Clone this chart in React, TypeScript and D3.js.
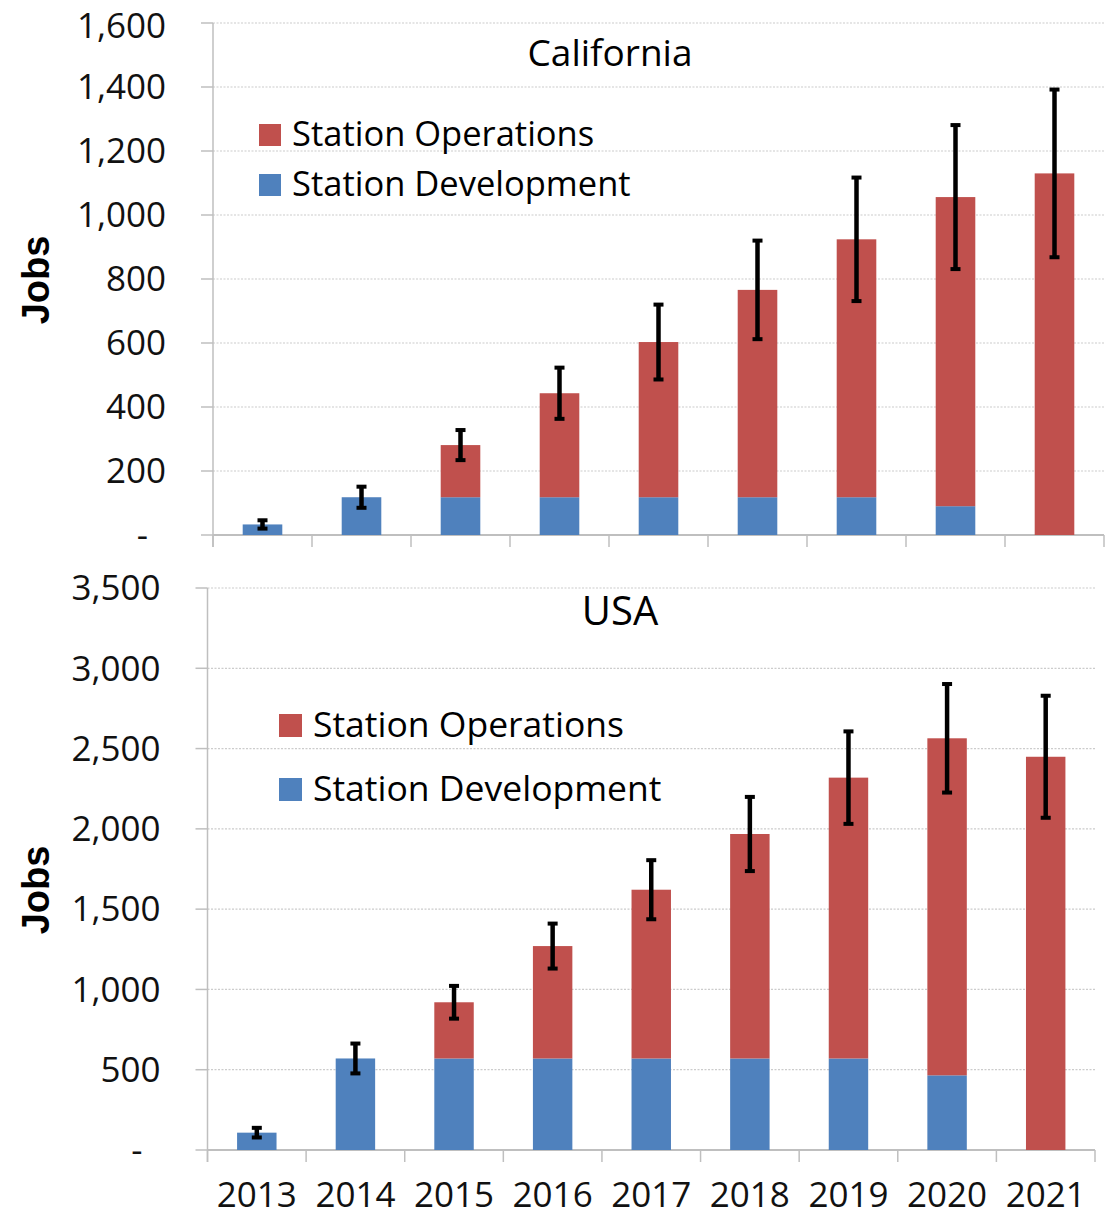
import React, { useEffect, useRef } from 'react';
import * as d3 from 'd3';

const years = ['2013', '2014', '2015', '2016', '2017', '2018', '2019', '2020', '2021'];

// California
const caDevelopment = [33, 118, 118, 118, 118, 118, 118, 90, 0];
const caOperations = [0, 0, 163, 325, 485, 648, 806, 966, 1130];
const caError = [13, 33, 47, 80, 117, 154, 193, 225, 262];
const caTicks = [0, 200, 400, 600, 800, 1000, 1200, 1400, 1600];

// USA
const usDevelopment = [108, 570, 570, 570, 570, 570, 570, 465, 0];
const usOperations = [0, 0, 350, 700, 1051, 1398, 1749, 2099, 2449];
const usError = [30, 93, 102, 140, 184, 231, 288, 338, 380];
const usTicks = [0, 500, 1000, 1500, 2000, 2500, 3000, 3500];

const seriesNames = ['Station Operations', 'Station Development'];
const RED = '#C0504D';
const BLUE = '#4F81BD';
const FONT = '"Open Sans", "Noto Sans", sans-serif';

type Panel = {
  title: string;
  dev: number[];
  ops: number[];
  err: number[];
  ticks: number[];
  x0: number; x1: number; y0: number; y1: number;
  titleX: number; titleY: number; titleSize: number;
  legX: number; legY: number; legGap: number; legBox: number; legSize: number;
  jobsY: number;
  showYears: boolean;
};

const App = () => {
  const svgRef = useRef<SVGSVGElement>(null);

  useEffect(() => {
    const svg = d3.select(svgRef.current);
    svg.selectAll('*').remove();

    const fmt = d3.format(',');

    const drawPanel = (p: Panel) => {
      const g = svg.append('g');
      const max = p.ticks[p.ticks.length - 1];

      const x = d3.scaleBand<string>()
        .domain(years)
        .range([p.x0, p.x1])
        .paddingInner(0.6)
        .paddingOuter(0.3);
      const y = d3.scaleLinear().domain([0, max]).range([p.y0, p.y1]);
      const step = x.step();

      // grid lines
      g.selectAll('.grid')
        .data(p.ticks.filter(t => t > 0))
        .enter()
        .append('line')
        .attr('x1', p.x0)
        .attr('x2', p.x1)
        .attr('y1', d => y(d))
        .attr('y2', d => y(d))
        .attr('stroke', '#cccccc')
        .attr('stroke-width', 1.2)
        .attr('stroke-dasharray', '2,1.5');

      // y tick marks
      g.selectAll('.ytick')
        .data(p.ticks)
        .enter()
        .append('line')
        .attr('x1', p.x0 - 12)
        .attr('x2', p.x0)
        .attr('y1', d => y(d))
        .attr('y2', d => y(d))
        .attr('stroke', '#bfbfbf')
        .attr('stroke-width', 1.5);

      // y tick labels (kept inside the page at the very top)
      g.selectAll('.ylabel')
        .data(p.ticks)
        .enter()
        .append('text')
        .attr('x', d => (d === 0 ? p.x0 - 65 : p.x0 - 47))
        .attr('y', d => Math.max(y(d), 25.5))
        .attr('dy', '0.35em')
        .attr('text-anchor', 'end')
        .attr('font-family', FONT)
        .attr('font-size', 35)
        .attr('fill', '#111')
        .text(d => (d === 0 ? '-' : fmt(d)));

      // axes
      g.append('line')
        .attr('x1', p.x0).attr('x2', p.x0)
        .attr('y1', p.y1).attr('y2', p.y0 + 12)
        .attr('stroke', '#bfbfbf').attr('stroke-width', 1.5);
      g.append('line')
        .attr('x1', p.x0).attr('x2', p.x1)
        .attr('y1', p.y0).attr('y2', p.y0)
        .attr('stroke', '#bfbfbf').attr('stroke-width', 2);
      g.selectAll('.xtick')
        .data(d3.range(years.length + 1))
        .enter()
        .append('line')
        .attr('x1', i => p.x0 + i * step)
        .attr('x2', i => p.x0 + i * step)
        .attr('y1', p.y0)
        .attr('y2', p.y0 + 12)
        .attr('stroke', '#bfbfbf')
        .attr('stroke-width', 1.5);

      // stacked bars
      const rows = years.map((yr, i) => ({
        year: yr, dev: p.dev[i], ops: p.ops[i], err: p.err[i], total: p.dev[i] + p.ops[i],
      }));

      g.selectAll('.dev')
        .data(rows.filter(d => d.dev > 0))
        .enter()
        .append('rect')
        .attr('x', d => x(d.year)!)
        .attr('width', x.bandwidth())
        .attr('y', d => y(d.dev))
        .attr('height', d => y(0) - y(d.dev))
        .attr('fill', BLUE);

      g.selectAll('.ops')
        .data(rows.filter(d => d.ops > 0))
        .enter()
        .append('rect')
        .attr('x', d => x(d.year)!)
        .attr('width', x.bandwidth())
        .attr('y', d => y(d.total))
        .attr('height', d => y(d.dev) - y(d.total))
        .attr('fill', RED);

      // error bars
      const eb = g.selectAll('.err')
        .data(rows)
        .enter()
        .append('g');
      eb.append('line')
        .attr('x1', d => x(d.year)! + x.bandwidth() / 2)
        .attr('x2', d => x(d.year)! + x.bandwidth() / 2)
        .attr('y1', d => y(d.total + d.err))
        .attr('y2', d => y(d.total - d.err))
        .attr('stroke', '#000')
        .attr('stroke-width', 4.5);
      [1, -1].forEach(sign => {
        eb.append('rect')
          .attr('x', d => x(d.year)! + x.bandwidth() / 2 - 5)
          .attr('y', d => y(d.total + sign * d.err) - 2)
          .attr('width', 10)
          .attr('height', 4)
          .attr('fill', '#000');
      });

      // title
      g.append('text')
        .attr('x', p.titleX)
        .attr('y', p.titleY)
        .attr('text-anchor', 'middle')
        .attr('font-family', FONT)
        .attr('font-size', p.titleSize)
        .attr('fill', '#000')
        .text(p.title);

      // legend
      const colors = [RED, BLUE];
      seriesNames.forEach((name, i) => {
        const ly = p.legY + i * p.legGap;
        g.append('rect')
          .attr('x', p.legX)
          .attr('y', ly - p.legBox)
          .attr('width', p.legBox)
          .attr('height', p.legBox)
          .attr('fill', colors[i]);
        g.append('text')
          .attr('x', p.legX + p.legBox + 11)
          .attr('y', ly)
          .attr('font-family', FONT)
          .attr('font-size', p.legSize)
          .attr('fill', '#000')
          .text(name);
      });

      // y axis title
      g.append('text')
        .attr('transform', `translate(49,${p.jobsY}) rotate(-90)`)
        .attr('text-anchor', 'middle')
        .attr('font-family', '"Liberation Sans", Arial, sans-serif')
        .attr('font-weight', 'bold')
        .attr('font-size', 38)
        .attr('fill', '#000')
        .text('Jobs');

      if (p.showYears) {
        g.selectAll('.xlabel')
          .data(years)
          .enter()
          .append('text')
          .attr('x', d => x(d)! + x.bandwidth() / 2)
          .attr('y', 1207)
          .attr('text-anchor', 'middle')
          .attr('font-family', FONT)
          .attr('font-size', 35)
          .attr('fill', '#111')
          .text(d => d);
      }
    };

    drawPanel({
      title: 'California', dev: caDevelopment, ops: caOperations, err: caError, ticks: caTicks,
      x0: 213, x1: 1104, y0: 535, y1: 23,
      titleX: 610, titleY: 66, titleSize: 37,
      legX: 259, legY: 146, legGap: 50, legBox: 22, legSize: 34.5,
      jobsY: 280, showYears: false,
    });

    drawPanel({
      title: 'USA', dev: usDevelopment, ops: usOperations, err: usError, ticks: usTicks,
      x0: 207.5, x1: 1095, y0: 1150, y1: 588,
      titleX: 620, titleY: 625, titleSize: 40,
      legX: 279, legY: 737, legGap: 64, legBox: 23, legSize: 35.5,
      jobsY: 890, showYears: true,
    });
  }, []);

  return (
    <svg
      ref={svgRef}
      width={1105}
      height={1218}
      style={{ position: 'absolute', left: 0, top: 0, background: '#fff' }}
    />
  );
};

export default App;
